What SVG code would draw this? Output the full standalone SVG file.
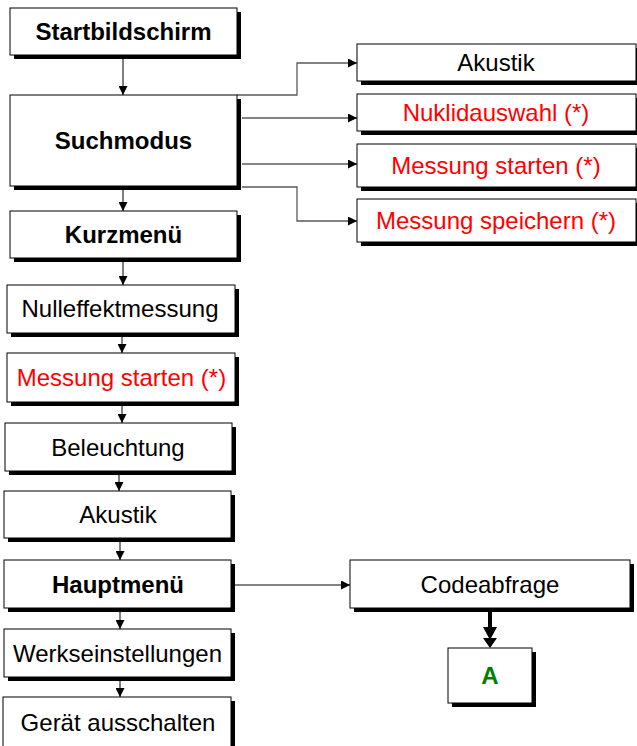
<svg xmlns="http://www.w3.org/2000/svg" width="637" height="746" viewBox="0 0 637 746">
<style>
.sh{fill:#000}
.bx{fill:#fff;stroke:#000;stroke-width:1}
.t{font-family:"Liberation Sans",Arial,sans-serif;font-size:24px;text-anchor:middle;fill:#000}
.b{font-weight:bold}
.r{fill:#ff0000}
.g{fill:#008000}
.cv{fill:none;stroke:#000;stroke-width:1}
.ch{fill:none;stroke:#5a5a5a;stroke-width:1.3}
</style>
<defs>
<marker id="ah" viewBox="0 0 10 10" refX="10" refY="5" markerWidth="9" markerHeight="9" orient="auto" markerUnits="userSpaceOnUse">
<path d="M0,0 L10,5 L0,10 z" fill="#000"/>
</marker>
</defs>
<rect width="637" height="746" fill="#fff"/>
<g id="connectors">
<path class="cv" d="M123,59 V95" marker-end="url(#ah)"/>
<path class="cv" d="M123,190 V211" marker-end="url(#ah)"/>
<path class="cv" d="M123,262 V285" marker-end="url(#ah)"/>
<path class="cv" d="M122,337 V353" marker-end="url(#ah)"/>
<path class="cv" d="M122,406 V423" marker-end="url(#ah)"/>
<path class="cv" d="M119,475 V491" marker-end="url(#ah)"/>
<path class="cv" d="M120,542 V560" marker-end="url(#ah)"/>
<path class="cv" d="M120,612 V629" marker-end="url(#ah)"/>
<path class="cv" d="M120,681 V697" marker-end="url(#ah)"/>
<path class="ch" d="M237,95 H297 V63 H357" marker-end="url(#ah)"/>
<path class="ch" d="M242,118 H357" marker-end="url(#ah)"/>
<path class="ch" d="M242,164 H357" marker-end="url(#ah)"/>
<path class="ch" d="M242,187 H297 V221 H357" marker-end="url(#ah)"/>
<path class="ch" d="M235,585 H350" marker-end="url(#ah)"/>
<path d="M490,612 V630" fill="none" stroke="#000" stroke-width="4"/>
<path d="M483,627 H497 L490,640 z M483,638 H497 L490,648 z" fill="#000"/>
</g>
<g id="startbildschirm">
<rect class="sh" x="14" y="12" width="227" height="47"/>
<rect class="bx" x="10" y="8" width="227" height="47"/>
<text class="t b" x="123.5" y="40">Startbildschirm</text>
</g>
<g id="suchmodus">
<rect class="sh" x="14" y="99" width="227" height="91"/>
<rect class="bx" x="10" y="95" width="227" height="91"/>
<text class="t b" x="123.5" y="149">Suchmodus</text>
</g>
<g id="kurzmenue">
<rect class="sh" x="14" y="215" width="227" height="47"/>
<rect class="bx" x="10" y="211" width="227" height="47"/>
<text class="t b" x="123.5" y="243">Kurzmenü</text>
</g>
<g id="nulleffektmessung">
<rect class="sh" x="11" y="289" width="228" height="48"/>
<rect class="bx" x="7" y="285" width="228" height="48"/>
<text class="t" x="120" y="317">Nulleffektmessung</text>
</g>
<g id="messung-starten-links">
<rect class="sh" x="11" y="357" width="228" height="49"/>
<rect class="bx" x="7" y="353" width="228" height="49"/>
<text class="t r" x="121.5" y="386">Messung starten (*)</text>
</g>
<g id="beleuchtung">
<rect class="sh" x="9" y="427" width="227" height="48"/>
<rect class="bx" x="5" y="423" width="227" height="48"/>
<text class="t" x="118" y="455.5">Beleuchtung</text>
</g>
<g id="akustik-links">
<rect class="sh" x="8" y="495" width="227" height="47"/>
<rect class="bx" x="4" y="491" width="227" height="47"/>
<text class="t" x="118" y="523">Akustik</text>
</g>
<g id="hauptmenue">
<rect class="sh" x="8" y="564" width="227" height="48"/>
<rect class="bx" x="4" y="560" width="227" height="48"/>
<text class="t b" x="118" y="592.5">Hauptmenü</text>
</g>
<g id="werkseinstellungen">
<rect class="sh" x="8" y="633" width="227" height="48"/>
<rect class="bx" x="4" y="629" width="227" height="48"/>
<text class="t" x="117.5" y="661.5">Werkseinstellungen</text>
</g>
<g id="geraet-ausschalten">
<rect class="sh" x="7" y="701" width="228" height="50"/>
<rect class="bx" x="3" y="697" width="228" height="50"/>
<text class="t" x="118" y="731">Gerät ausschalten</text>
</g>
<g id="akustik-rechts">
<rect class="sh" x="361" y="48" width="279" height="37"/>
<rect class="bx" x="357" y="44" width="279" height="37"/>
<text class="t" x="496" y="71">Akustik</text>
</g>
<g id="nuklidauswahl">
<rect class="sh" x="361" y="98" width="279" height="37"/>
<rect class="bx" x="357" y="94" width="279" height="37"/>
<text class="t r" x="496" y="121">Nuklidauswahl (*)</text>
</g>
<g id="messung-starten-rechts">
<rect class="sh" x="361" y="148" width="279" height="43"/>
<rect class="bx" x="357" y="144" width="279" height="43"/>
<text class="t r" x="496" y="174">Messung starten (*)</text>
</g>
<g id="messung-speichern">
<rect class="sh" x="361" y="203" width="279" height="43"/>
<rect class="bx" x="357" y="199" width="279" height="43"/>
<text class="t r" x="496" y="228.5">Messung speichern (*)</text>
</g>
<g id="codeabfrage">
<rect class="sh" x="354" y="564" width="280" height="48"/>
<rect class="bx" x="350" y="560" width="280" height="48"/>
<text class="t" x="490" y="592.5">Codeabfrage</text>
</g>
<g id="a">
<rect class="sh" x="452" y="652" width="84" height="55"/>
<rect class="bx" x="448" y="648" width="84" height="55"/>
<text class="t b g" x="490" y="684">A</text>
</g>
</svg>
